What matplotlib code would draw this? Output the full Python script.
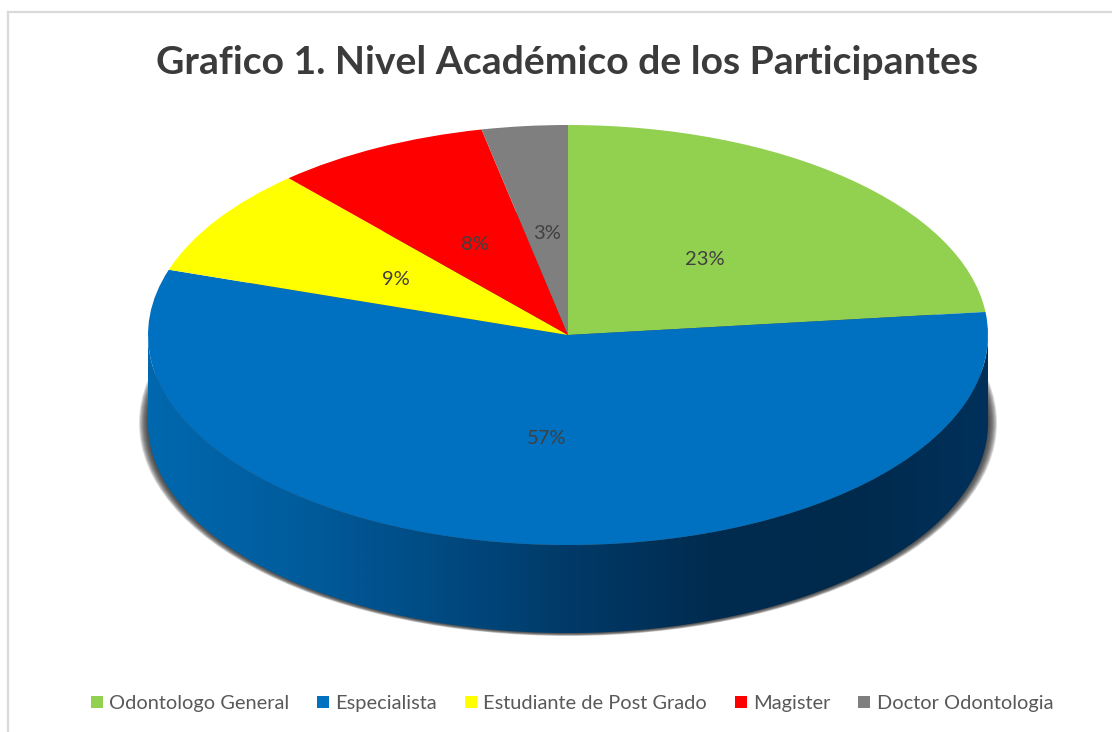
import numpy as np
import matplotlib
matplotlib.use("Agg")
import matplotlib.pyplot as plt
from matplotlib.colors import LinearSegmentedColormap
from matplotlib.lines import Line2D
from matplotlib.patches import Ellipse, Polygon, Rectangle

title = "Grafico 1. Nivel Académico de los Participantes"
categories = ["Odontologo General", "Especialista", "Estudiante de Post Grado", "Magister", "Doctor Odontologia"]
# slice shares (the 3-D view skews them slightly) and printed labels
shares = [23.25, 56.78, 8.39, 8.28, 3.30]
labels = ["23%", "57%", "9%", "8%", "3%"]
colors = ["#92D050", "#0070C0", "#FFFF00", "#FF0000", "#7F7F7F"]
wall_colors = ["#0068AE", "#005D9E", "#004C84", "#003A68", "#002C50", "#002A4C", "#00305A"]

W, H = 1112, 732
plt.rcParams["font.family"] = ["Lato", "DejaVu Sans"]
fig = plt.figure(figsize=(W / 100, H / 100), dpi=100, facecolor="white")

# Top face occupies x 148..988, y 125..545 in image pixels
ax = fig.add_axes([148 / W, 1 - 545 / H, 840 / W, 420 / H])
ax.axis("off")
depth = 88 / 210

# soft shadow beneath the wall
for i in range(10):
    s = (10 - i) / 10
    ax.add_patch(Ellipse((0.0, -depth), 2 + 2 * s * 9 / 420, 2 + 2 * s * 3 / 210,
                         facecolor="#303030", edgecolor="none", alpha=0.16, zorder=1, clip_on=False))

# side wall with horizontal gradient
t = np.linspace(np.pi, 2 * np.pi, 300)
xs = np.cos(t)
ys = np.sin(t)
outline = np.vstack([np.c_[xs, ys], np.c_[xs[::-1], ys[::-1] - depth]])
cmap = LinearSegmentedColormap.from_list("wall", wall_colors)
grad = np.linspace(0, 1, 512).reshape(1, -1)
im = ax.imshow(grad, cmap=cmap, extent=(-1, 1, -1 - depth, 0), aspect="auto", zorder=2)
clip = Polygon(outline, closed=True, transform=ax.transData, facecolor="none", edgecolor="none", clip_on=False)
ax.add_patch(clip)
im.set_clip_box(fig.bbox)
im.set_clip_path(clip)

wedges, texts, autotexts = ax.pie(
    shares, colors=colors, startangle=90, counterclock=False, radius=1.0,
    autopct="%.0f%%", pctdistance=0.49, wedgeprops={"linewidth": 0, "zorder": 3},
    textprops={"fontsize": 14.5, "color": "#404040"},
)
for a, lab in zip(autotexts, labels):
    a.set_text(lab)
    a.set_zorder(5)
    px, py = a.get_position()
    a.set_position((px, py - 1 / 210))
ax.set_aspect("auto")
ax.set_xlim(-1, 1)
ax.set_ylim(-1, 1)

# chart frame (left and top only visible)
fig.add_artist(Line2D([7.5 / W, 7.5 / W], [0, 1 - 12 / H], color="#D9D9D9", lw=1.6))
fig.add_artist(Line2D([7.5 / W, 1], [1 - 12 / H, 1 - 12 / H], color="#D9D9D9", lw=1.6))

fig.text(567.5 / W, 1 - 62 / H, title, ha="center", va="center", fontsize=28.2,
         fontweight="bold", color="#3B3B3B")

handles = [Rectangle((0, 0), 1, 1, facecolor=c, edgecolor="none") for c in colors]
fig.legend(handles, categories, loc="center", bbox_to_anchor=(572 / W, 1 - 703.5 / H), ncol=5,
           frameon=False, fontsize=14.45, labelcolor="#595959", handlelength=0.6, handleheight=0.6,
           handletextpad=0.32, columnspacing=1.38, borderpad=0, borderaxespad=0)

fig.savefig("out.png", dpi=100, facecolor="white")
